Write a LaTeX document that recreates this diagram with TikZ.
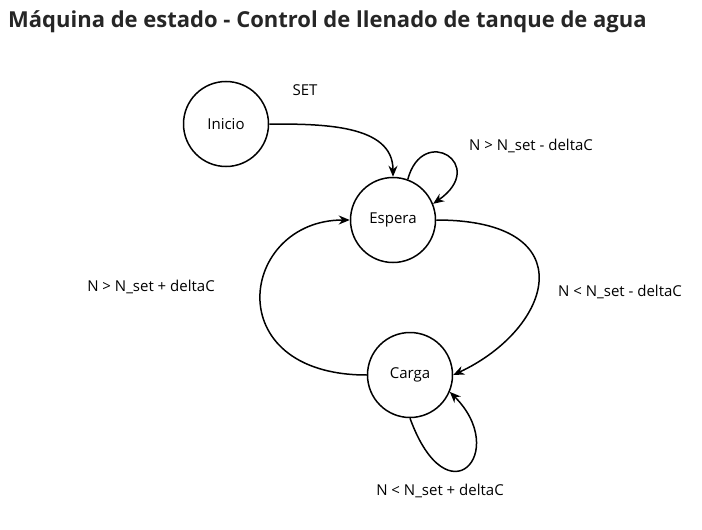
\documentclass[tikz,border=0pt]{standalone}
\usepackage{fontspec}
\setmainfont{Open Sans}
\usetikzlibrary{arrows.meta}
\tikzset{
    estado/.style={draw, circle, line width=1.5pt, minimum size=85pt, inner sep=0pt, font=\fontsize{15}{18}\selectfont},
    transicion/.style={line width=1.5pt, -{Stealth[length=11pt,width=9pt]}},
    etiqueta/.style={inner sep=0pt, font=\fontsize{15}{18}\selectfont},
}

\begin{document}
\begin{tikzpicture}[x=1pt,y=1pt]
    \useasboundingbox (0,0) rectangle (702,-530);

    \node [anchor=west, inner sep=0pt, text=black!85, font=\bfseries\fontsize{22}{26}\selectfont] (titulo) at (8,-22) {Máquina de estado - Control de llenado de tanque de agua};

    %estados
    \node [estado] (inicio) at (226,-124) {Inicio};
    \node [estado] (espera) at (393,-220) {Espera};
    \node [estado] (carga) at (410,-375) {Carga};

    %for inicio
    \draw [transicion] (inicio.east) to[out=0, in=90] (espera.north);
    \node [etiqueta] (set) at (305,-90) {SET};

    %for espera
    \draw [transicion] (espera.70) .. controls +(75:58) and +(35:68) .. (espera.22);
    \node [etiqueta] (esperaLazo) at (531,-146) {N > N\_set - deltaC};

    \draw [transicion] (espera.east) .. controls +(150,0) and +(25:110) .. (carga.east);
    \node [etiqueta] (esperaCarga) at (620,-292) {N < N\_set - deltaC};

    %for carga
    \draw [transicion] (carga.west) .. controls +(-150,0) and +(-110,0) .. (espera.west);
    \node [etiqueta] (cargaEspera) at (151,-287) {N > N\_set + deltaC};

    \draw [transicion] (carga.south) .. controls +(-70:110) and +(-45:85) .. (carga.-23);
    \node [etiqueta] (cargaLazo) at (440,-491) {N < N\_set + deltaC};

\end{tikzpicture}
\end{document}
